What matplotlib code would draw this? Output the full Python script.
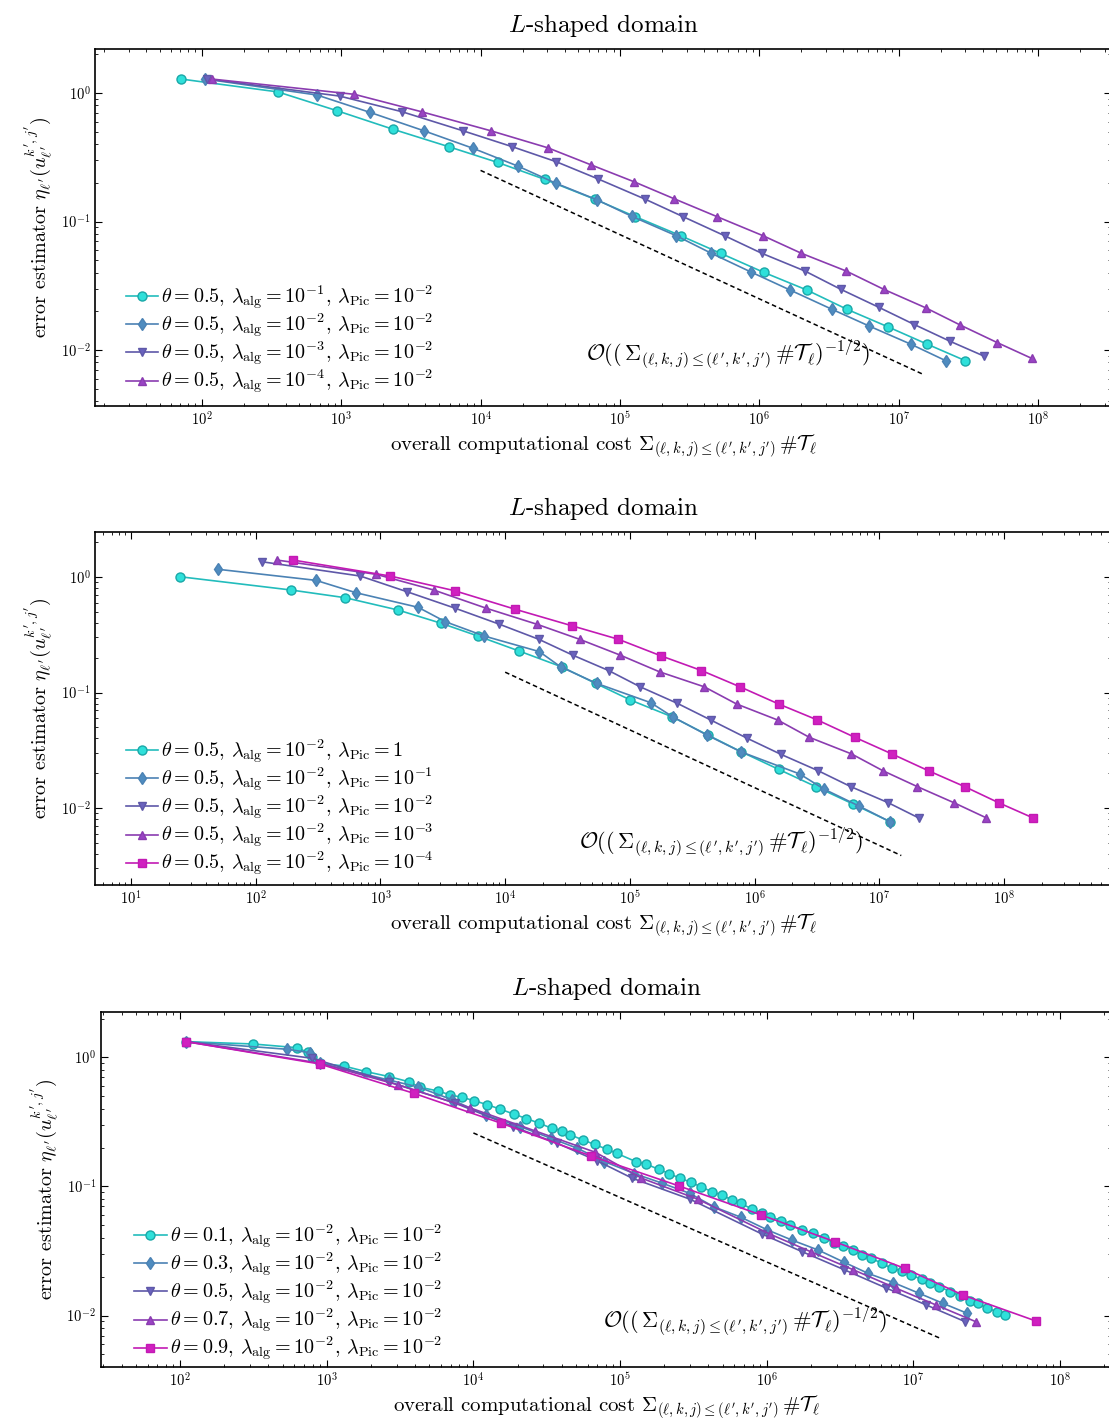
import numpy as np
import matplotlib
matplotlib.use("Agg")
import matplotlib.pyplot as plt
from matplotlib.ticker import FixedLocator, LogLocator, NullFormatter

plt.rcParams["font.family"] = "serif"
plt.rcParams["font.serif"] = ["cmr10"]
plt.rcParams["mathtext.fontset"] = "cm"
plt.rcParams["axes.formatter.use_mathtext"] = True

# --- panel 1: varying lambda_alg ---------------------------------------
p1_cost_alg1 = [71, 352, 935, 2360, 5920, 1.33e4, 2.88e4, 6.61e4, 1.29e5, 2.72e5, 5.27e5,
                1.07e6, 2.19e6, 4.27e6, 8.3e6, 1.6e7, 3.0e7]
p1_err_alg1 = [1.285, 1.02, 0.728, 0.522, 0.382, 0.288, 0.213, 0.149, 0.109, 0.0776, 0.0566,
               0.0403, 0.0293, 0.0207, 0.0152, 0.0111, 0.00826]
p1_cost_alg2 = [106, 671, 1603, 3910, 8850, 1.85e4, 3.49e4, 6.8e4, 1.21e5, 2.53e5, 4.52e5,
                8.77e5, 1.66e6, 3.33e6, 6.1e6, 1.22e7, 2.17e7]
p1_err_alg2 = [1.285, 0.965, 0.708, 0.509, 0.371, 0.270, 0.198, 0.148, 0.110, 0.0776, 0.0566,
               0.0403, 0.0293, 0.0207, 0.0154, 0.0111, 0.00826]
p1_cost_alg3 = [110, 975, 2735, 7450, 1.69e4, 3.49e4, 6.93e4, 1.5e5, 2.84e5, 5.62e5, 1.04e6,
                2.12e6, 3.83e6, 7.19e6, 1.29e7, 2.33e7, 4.07e7]
p1_err_alg3 = [1.285, 0.947, 0.715, 0.509, 0.382, 0.292, 0.215, 0.150, 0.109, 0.0776, 0.0566,
               0.0412, 0.0297, 0.0215, 0.0158, 0.0117, 0.00898]
p1_cost_alg4 = [118, 1245, 3770, 1.18e4, 3.03e4, 6.15e4, 1.26e5, 2.46e5, 4.98e5, 1.06e6, 2.0e6,
                4.19e6, 7.78e6, 1.56e7, 2.74e7, 5.1e7, 9.0e7]
p1_err_alg4 = [1.285, 0.977, 0.715, 0.509, 0.375, 0.277, 0.204, 0.150, 0.109, 0.0776, 0.0566,
               0.0412, 0.0297, 0.0213, 0.0157, 0.0114, 0.0086]
p1_labels = [r"$\theta = 0.5$, $\lambda_{\mathrm{alg}} = 10^{-1}$, $\lambda_{\mathrm{Pic}} = 10^{-2}$",
             r"$\theta = 0.5$, $\lambda_{\mathrm{alg}} = 10^{-2}$, $\lambda_{\mathrm{Pic}} = 10^{-2}$",
             r"$\theta = 0.5$, $\lambda_{\mathrm{alg}} = 10^{-3}$, $\lambda_{\mathrm{Pic}} = 10^{-2}$",
             r"$\theta = 0.5$, $\lambda_{\mathrm{alg}} = 10^{-4}$, $\lambda_{\mathrm{Pic}} = 10^{-2}$"]

# --- panel 2: varying lambda_Pic ---------------------------------------
p2_cost_pic0 = [24.7, 192, 522, 1384, 3085, 6070, 1.29e4, 2.83e4, 5.31e4, 1.01e5, 2.17e5,
                4.21e5, 7.79e5, 1.56e6, 3.1e6, 6.18e6, 1.22e7]
p2_err_pic0 = [1.006, 0.772, 0.662, 0.518, 0.397, 0.308, 0.229, 0.167, 0.120, 0.0861, 0.0617,
               0.0429, 0.0307, 0.0216, 0.0153, 0.0108, 0.0076]
p2_cost_pic1 = [50.2, 304, 637, 2003, 3320, 6820, 1.88e4, 2.78e4, 5.41e4, 1.47e5, 2.2e5,
                4.13e5, 7.74e5, 2.3e6, 3.59e6, 6.86e6, 1.22e7]
p2_err_pic1 = [1.166, 0.936, 0.731, 0.547, 0.410, 0.308, 0.226, 0.167, 0.120, 0.0816, 0.0617,
               0.0429, 0.0307, 0.0197, 0.0146, 0.0104, 0.0076]
p2_cost_pic2 = [112, 689, 1633, 3990, 8890, 1.86e4, 3.47e4, 6.75e4, 1.21e5, 2.4e5, 4.45e5,
                8.74e5, 1.62e6, 3.24e6, 5.91e6, 1.18e7, 2.07e7]
p2_err_pic2 = [1.357, 1.02, 0.746, 0.536, 0.392, 0.289, 0.211, 0.155, 0.112, 0.0806, 0.0578,
               0.0401, 0.0292, 0.0210, 0.0153, 0.0111, 0.0082]
p2_cost_pic3 = [148, 927, 2672, 7080, 1.81e4, 3.95e4, 8.34e4, 1.73e5, 3.95e5, 7.17e5, 1.53e6,
                2.75e6, 5.98e6, 1.07e7, 2.02e7, 3.97e7, 7.23e7]
p2_err_pic3 = [1.403, 1.055, 0.772, 0.536, 0.389, 0.289, 0.211, 0.151, 0.112, 0.0795, 0.0578,
               0.0409, 0.0294, 0.0210, 0.0153, 0.0111, 0.0082]
p2_cost_pic4 = [199, 1199, 3936, 1.21e4, 3.44e4, 8.09e4, 1.79e5, 3.75e5, 7.64e5, 1.56e6, 3.19e6,
                6.37e6, 1.26e7, 2.48e7, 4.84e7, 9.06e7, 1.71e8]
p2_err_pic4 = [1.403, 1.02, 0.761, 0.525, 0.378, 0.289, 0.207, 0.155, 0.112, 0.0795, 0.0578,
               0.0409, 0.0294, 0.0210, 0.0153, 0.0111, 0.0082]
p2_labels = [r"$\theta = 0.5$, $\lambda_{\mathrm{alg}} = 10^{-2}$, $\lambda_{\mathrm{Pic}} = 1$",
             r"$\theta = 0.5$, $\lambda_{\mathrm{alg}} = 10^{-2}$, $\lambda_{\mathrm{Pic}} = 10^{-1}$",
             r"$\theta = 0.5$, $\lambda_{\mathrm{alg}} = 10^{-2}$, $\lambda_{\mathrm{Pic}} = 10^{-2}$",
             r"$\theta = 0.5$, $\lambda_{\mathrm{alg}} = 10^{-2}$, $\lambda_{\mathrm{Pic}} = 10^{-3}$",
             r"$\theta = 0.5$, $\lambda_{\mathrm{alg}} = 10^{-2}$, $\lambda_{\mathrm{Pic}} = 10^{-4}$"]

# --- panel 3: varying theta --------------------------------------------
p3_cost_t1 = [110, 312, 626, 740, 793, 903, 1304, 1862, 2673, 3617, 4345, 5740, 6966, 8370,
              1.016e4, 1.24e4, 1.53e4, 1.9e4, 2.3e4, 2.82e4, 3.41e4, 4.03e4, 4.59e4, 5.61e4,
              6.7e4, 8.18e4, 9.46e4, 1.28e5, 1.51e5, 1.83e5, 2.16e5, 2.55e5, 3.04e5, 3.54e5,
              4.23e5, 4.93e5, 5.82e5, 6.68e5, 7.88e5, 9.29e5, 1.06e6, 1.26e6, 1.44e6, 1.75e6,
              2.06e6, 2.46e6, 2.87e6, 3.3e6, 3.89e6, 4.46e6, 5.18e6, 6.1e6, 7.12e6, 8.4e6,
              9.63e6, 1.14e7, 1.3e7, 1.5e7, 1.79e7, 2.08e7, 2.43e7, 2.74e7, 3.2e7, 3.71e7, 4.22e7]
p3_err_t1 = [1.326, 1.273, 1.191, 1.097, 1.014, 0.902, 0.859, 0.776, 0.710, 0.649, 0.587, 0.550,
             0.512, 0.491, 0.462, 0.431, 0.397, 0.363, 0.336, 0.309, 0.283, 0.271, 0.251, 0.229,
             0.212, 0.194, 0.181, 0.156, 0.149, 0.136, 0.126, 0.116, 0.108, 0.0996, 0.0912,
             0.0859, 0.0785, 0.0741, 0.0670, 0.0620, 0.0583, 0.0543, 0.0503, 0.0461, 0.0434,
             0.0397, 0.0367, 0.0346, 0.0322, 0.0294, 0.0277, 0.0254, 0.0232, 0.0222, 0.0206,
             0.0191, 0.0178, 0.0167, 0.0153, 0.0142, 0.0130, 0.0124, 0.0114, 0.0107, 0.0101]
p3_cost_t3 = [110, 535, 771, 903, 2643, 4217, 7196, 1.21e4, 2.09e4, 3.36e4, 5.11e4, 7.82e4,
              1.25e5, 1.94e5, 2.98e5, 4.35e5, 6.68e5, 1.01e6, 1.48e6, 2.24e6, 3.39e6, 4.92e6,
              7.31e6, 1.09e7, 1.6e7, 2.33e7]
p3_err_t3 = [1.326, 1.158, 1.089, 0.902, 0.669, 0.590, 0.469, 0.358, 0.291, 0.237, 0.198, 0.156,
             0.126, 0.106, 0.0886, 0.0697, 0.0577, 0.0461, 0.0385, 0.0322, 0.0258, 0.0212,
             0.0180, 0.0149, 0.0124, 0.0104]
p3_cost_t5 = [110, 793, 2643, 7540, 1.87e4, 3.73e4, 7.0e4, 1.21e5, 3.01e5, 9.29e5, 1.75e6,
              3.39e6, 6.55e6, 1.22e7, 2.26e7]
p3_err_t5 = [1.326, 0.986, 0.649, 0.442, 0.291, 0.216, 0.158, 0.116, 0.0796, 0.0428, 0.0312,
             0.0226, 0.0163, 0.0121, 0.00895]
p3_cost_t7 = [110, 903, 3077, 9550, 2.65e4, 6.8e4, 1.4e5, 3.4e5, 1.05e6, 2.0e6, 3.9e6, 7.6e6,
              1.42e7, 2.67e7]
p3_err_t7 = [1.326, 0.902, 0.612, 0.406, 0.269, 0.184, 0.116, 0.0796, 0.0428, 0.0312, 0.0226,
             0.0163, 0.0121, 0.00895]
p3_cost_t9 = [110, 893, 3915, 1.55e4, 6.29e4, 2.52e5, 9.18e5, 2.92e6, 8.73e6, 2.18e7, 6.86e7]
p3_err_t9 = [1.326, 0.891, 0.528, 0.309, 0.173, 0.101, 0.0601, 0.0373, 0.0232, 0.0144, 0.00906]
p3_labels = [r"$\theta = 0.1$, $\lambda_{\mathrm{alg}} = 10^{-2}$, $\lambda_{\mathrm{Pic}} = 10^{-2}$",
             r"$\theta = 0.3$, $\lambda_{\mathrm{alg}} = 10^{-2}$, $\lambda_{\mathrm{Pic}} = 10^{-2}$",
             r"$\theta = 0.5$, $\lambda_{\mathrm{alg}} = 10^{-2}$, $\lambda_{\mathrm{Pic}} = 10^{-2}$",
             r"$\theta = 0.7$, $\lambda_{\mathrm{alg}} = 10^{-2}$, $\lambda_{\mathrm{Pic}} = 10^{-2}$",
             r"$\theta = 0.9$, $\lambda_{\mathrm{alg}} = 10^{-2}$, $\lambda_{\mathrm{Pic}} = 10^{-2}$"]

# reference slope N^(-1/2): endpoints in cost and prefactor per panel
ref_cost = [1e4, 1.5e7]
ref_const = [25, 15, 26]

styles = [
    dict(color="#22bcbc", marker="o", ms=6.5, mfc="#2fe0da", mec="#1aa8a8"),
    dict(color="#4b82b4", marker="d", ms=6, mfc="#4f8cc0", mec="#4b82b4"),
    dict(color="#5e58a8", marker="v", ms=6, mfc="#6a62be", mec="#5e58a8"),
    dict(color="#8a3cb0", marker="^", ms=6, mfc="#9a44c4", mec="#8a3cb0"),
    dict(color="#c21ab4", marker="s", ms=5.5, mfc="#d020c0", mec="#c21ab4"),
]

title = r"$L$-shaped domain"
xlabel = r"overall computational cost $\Sigma_{(\ell,k,j)\leq(\ell',k',j')}\,\#\mathcal{T}_{\ell}$"
ylabel = r"error estimator $\eta_{\ell'}(u_{\ell'}^{k',j'})$"
rate_text = r"$\mathcal{O}((\,\Sigma_{(\ell,k,j)\leq(\ell',k',j')}\,\#\mathcal{T}_{\ell})^{-1/2})$"


def decades(lo, hi):
    return [10.0 ** e for e in range(int(np.ceil(np.log10(lo))), int(np.floor(np.log10(hi))) + 1)]


def draw_panel(ax, series, labels, xlim, ylim, c_ref, text_pos, leg_anchor):
    for (cost, err), lab, st in zip(series, labels, styles):
        ax.plot(cost, err, lw=1.2, label=lab, **st)
    rc = np.array(ref_cost)
    ax.plot(rc, c_ref * rc ** -0.5, color="black", lw=1.1, ls=(0, (3, 2)))
    ax.text(text_pos[0], text_pos[1], rate_text, fontsize=16, ha="left", va="center")

    ax.set_xscale("log")
    ax.set_yscale("log")
    ax.set_xlim(*xlim)
    ax.set_ylim(*ylim)
    ax.xaxis.set_major_locator(FixedLocator(decades(*xlim)))
    ax.yaxis.set_major_locator(FixedLocator(decades(*ylim)))
    for axis in (ax.xaxis, ax.yaxis):
        axis.set_minor_locator(LogLocator(base=10, subs=np.arange(2, 10), numticks=300))
        axis.set_minor_formatter(NullFormatter())
    ax.tick_params(which="both", direction="in", top=True, right=True, labelsize=10.5)
    ax.tick_params(which="major", length=5, width=0.8)
    ax.tick_params(which="minor", length=2.5, width=0.6)
    for sp in ax.spines.values():
        sp.set_linewidth(1.2)

    ax.set_title(title, fontsize=18, pad=12)
    ax.set_xlabel(xlabel, fontsize=15, labelpad=3)
    ax.set_ylabel(ylabel, fontsize=14.5, labelpad=4)
    ax.legend(loc="upper left", bbox_to_anchor=leg_anchor, frameon=False, fontsize=14.5,
              handlelength=1.6, handletextpad=0.15, labelspacing=0.0, borderpad=0,
              borderaxespad=0)


fig = plt.figure(figsize=(11.09, 14.25), dpi=100)
ax1 = fig.add_axes([0.0861, 0.7151, 0.9158, 0.2505])
ax2 = fig.add_axes([0.0861, 0.3789, 0.9158, 0.2477])
ax3 = fig.add_axes([0.0911, 0.0407, 0.9108, 0.2491])

draw_panel(ax1,
           [(p1_cost_alg1, p1_err_alg1), (p1_cost_alg2, p1_err_alg2),
            (p1_cost_alg3, p1_err_alg3), (p1_cost_alg4, p1_err_alg4)],
           p1_labels, (17.3, 3.33e8), (0.00367, 2.2), ref_const[0],
           (5.7e4, 0.0091), (0.03, 0.343))
draw_panel(ax2,
           [(p2_cost_pic0, p2_err_pic0), (p2_cost_pic1, p2_err_pic1),
            (p2_cost_pic2, p2_err_pic2), (p2_cost_pic3, p2_err_pic3),
            (p2_cost_pic4, p2_err_pic4)],
           p2_labels, (5.19, 7.22e8), (0.00215, 2.45), ref_const[1],
           (3.9e4, 0.005), (0.03, 0.418))
draw_panel(ax3,
           [(p3_cost_t1, p3_err_t1), (p3_cost_t3, p3_err_t3), (p3_cost_t5, p3_err_t5),
            (p3_cost_t7, p3_err_t7), (p3_cost_t9, p3_err_t9)],
           p3_labels, (28.9, 2.23e8), (0.00399, 2.25), ref_const[2],
           (7.7e4, 0.0089), (0.033, 0.407))

fig.savefig("out.png", dpi=100)
